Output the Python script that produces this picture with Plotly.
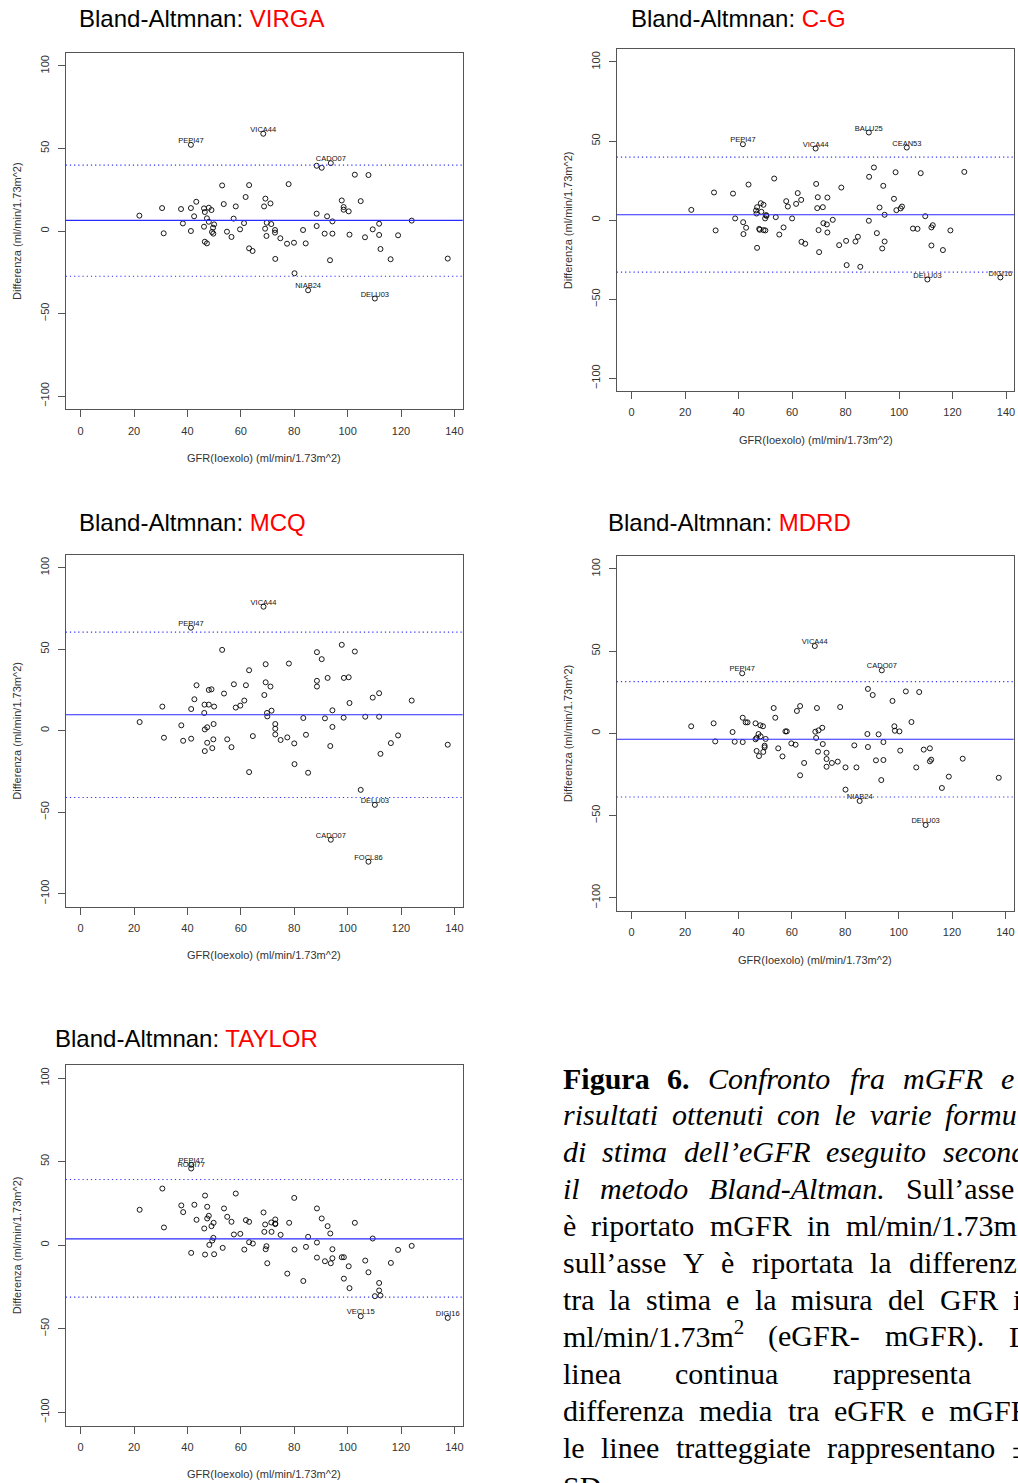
import plotly.graph_objects as go

# ---------------- DATA ----------------
x_virga = [22.0, 30.5, 31.1, 37.6, 38.3, 41.3, 41.3, 41.3, 42.5, 43.3, 46.2, 46.5, 46.2, 46.5, 47.3, 47.3,
           48.0, 48.0, 49.0, 49.6, 49.2, 49.7, 50.0, 53.0, 53.6, 54.8, 56.5, 57.3, 58.1, 59.7, 61.2, 61.8,
           63.1, 63.1, 64.4, 68.4, 68.7, 69.2, 69.1, 69.7, 69.6, 71.1, 71.4, 72.8, 72.8, 72.9, 74.8, 77.3,
           77.9, 79.9, 80.1, 83.3, 84.3, 85.2, 88.4, 90.3, 93.7, 88.4, 88.4, 91.4, 92.3, 93.4, 94.3, 94.3,
           97.8, 98.5, 98.5, 100.4, 100.7, 102.7, 104.9, 106.5, 107.8, 109.4, 110.2, 111.8, 111.8, 112.3,
           116.1, 118.9, 124.0, 137.5]
y_virga = [9.3, 13.9, -1.4, 13.3, 4.6, 52.2, 13.9, 0.0, 8.9, 17.7, 13.7, 11.5, 2.6, -6.5, -7.5, 7.7,
           14.1, 5.6, 12.7, 2.0, -0.6, -1.6, 4.0, 27.6, 16.3, -0.4, -3.6, 7.5, 14.9, 1.0, 4.8, 20.6,
           27.8, -10.5, -12.1, 58.9, 14.9, 19.6, 1.4, 5.0, -3.0, 16.7, 4.2, 0.6, -1.0, -16.9, -4.4, -7.7,
           28.4, -7.1, -25.6, 0.6, -7.5, -35.9, 39.5, 38.3, 41.1, 10.5, 3.0, -1.6, 8.9, -17.7, 5.8, -1.6,
           18.5, 14.5, 12.9, 11.9, -2.2, 34.1, 18.1, -3.8, 33.9, 1.0, -40.9, 4.4, -2.4, -10.9,
           -17.1, -2.6, 6.3, -16.7]
lab_virga = {"PEPI47": 5, "VICA44": 35, "NIAB24": 53, "CADO07": 56, "DELU03": 74}
stats_virga = [6.45, 39.9, -27.4]  # mean, upper, lower

x_cg = [22.3, 30.8, 31.4, 37.9, 38.7, 41.6, 41.7, 41.8, 42.8, 43.7, 46.5, 46.9, 46.7, 46.9, 47.7, 47.9,
        48.3, 48.5, 49.3, 49.3, 50.0, 49.9, 50.3, 50.4, 53.3, 53.9, 55.2, 56.8, 57.8, 58.4, 60.0, 61.5,
        62.1, 63.4, 63.5, 64.9, 68.8, 69.0, 69.4, 69.6, 69.9, 70.1, 71.5, 71.7, 73.0, 73.2, 73.2, 75.2,
        77.6, 78.4, 80.2, 80.4, 83.7, 84.6, 85.5, 88.7, 88.7, 88.8, 90.6, 91.7, 92.7, 93.7, 94.1, 94.6,
        94.6, 98.1, 98.7, 99.0, 100.6, 101.1, 102.9, 105.2, 106.9, 108.1, 109.8, 110.6, 112.1, 112.6,
        112.1, 116.4, 119.2, 124.4, 137.9]
y_cg = [6.5, 17.5, -6.5, 16.8, 1.1, 48.0, -1.3, -8.8, -4.8, 22.5, 6.1, 8.2, 4.2, -17.5, -5.5, -6.1,
        10.7, 5.3, 9.7, -6.3, -6.5, 1.1, 3.2, 2.7, 26.3, 1.9, -9.1, -4.6, 12.0, 8.6, 1.1, 10.3,
        17.1, 12.8, -13.7, -14.9, 45.3, 22.9, 7.6, 14.5, -6.3, -20.2, 8.2, -1.9, -2.7, 14.3, -7.8, 0.2,
        -15.8, 20.6, -13.1, -28.4, -13.5, -10.5, -29.5, 55.4, -0.4, 27.4, 33.3, -8.2, 8.0, -17.9, 21.7, 3.4,
        -13.5, 13.5, 30.3, 6.3, 7.4, 8.6, 45.9, -5.3, -5.5, 29.7, 2.5, -37.5, -4.6, -3.2,
        -16.0, -18.9, -6.5, 30.5, -36.2]
lab_cg = {"PEPI47": 5, "VICA44": 36, "BALU25": 55, "CEAN53": 70, "DELU03": 75, "DIGI16": 82}
stats_cg = [3.4, 39.8, -32.8]

x_mcq = [22.1, 30.6, 31.2, 37.7, 38.4, 41.3, 41.4, 41.4, 42.6, 43.4, 46.3, 46.4, 46.5, 46.5, 47.4, 47.4,
         48.0, 48.0, 49.0, 49.3, 49.7, 49.8, 50.0, 53.0, 53.7, 54.9, 56.5, 57.4, 58.1, 59.8, 61.3, 61.9,
         63.1, 63.1, 64.5, 68.5, 68.8, 69.3, 69.3, 69.8, 69.9, 71.1, 71.5, 72.9, 72.9, 72.9, 74.9, 77.4,
         78.0, 80.0, 80.1, 83.4, 84.4, 85.2, 88.5, 88.5, 88.5, 90.3, 91.5, 92.5, 93.5, 93.7, 94.3, 94.3,
         97.8, 98.5, 98.6, 100.4, 100.7, 102.7, 104.9, 106.6, 107.8, 109.4, 110.2, 111.8, 111.8, 112.3,
         116.2, 118.9, 124.0, 137.5]
y_mcq = [5.3, 14.8, -4.3, 3.3, -6.2, 63.2, 13.3, -4.9, 19.3, 27.9, 10.9, 16.0, 0.8, -12.5, -7.4, 2.1,
         25.0, 16.0, 25.4, -10.7, -5.3, 4.1, 14.8, 49.6, 22.8, -5.3, -10.1, 28.5, 14.2, 15.4, 18.5, 27.9,
         37.1, -25.4, -3.3, 76.1, 21.9, 29.7, 40.8, 10.9, 8.8, 27.1, 12.3, 4.1, 1.2, -2.3, -5.7, -4.1,
         41.2, -7.8, -20.5, 7.8, -2.5, -25.8, 48.2, 30.6, 27.1, 43.9, 7.6, 32.4, -9.4, -66.9, 12.5, 2.3,
         52.7, 8.0, 32.4, 32.8, 17.0, 48.6, -36.3, 8.6, -80.4, 20.3, -45.5, 23.0, 8.6, -14.2,
         -7.6, -2.9, 18.5, -8.6]
lab_mcq = {"PEPI47": 5, "VICA44": 35, "CADO07": 61, "FOCL86": 72, "DELU03": 74}
stats_mcq = [9.8, 60.5, -41.0]

x_mdrd = [22.3, 30.7, 31.3, 37.8, 38.6, 41.4, 41.6, 41.6, 42.7, 43.4, 46.4, 46.4, 46.8, 46.8, 47.5, 47.7,
          48.2, 48.3, 49.2, 49.3, 49.8, 49.8, 50.2, 53.2, 53.8, 54.9, 56.5, 57.6, 58.1, 59.8, 61.4, 61.9,
          63.1, 63.1, 64.6, 68.6, 68.8, 69.1, 69.4, 69.8, 70.0, 71.4, 71.6, 73.0, 73.0, 73.0, 75.0, 77.2,
          78.1, 80.1, 80.1, 83.4, 84.2, 85.4, 88.5, 88.3, 88.5, 90.3, 91.5, 92.5, 93.5, 93.7, 94.3, 94.3,
          97.7, 98.4, 98.6, 100.3, 100.6, 102.7, 104.8, 106.6, 107.7, 109.4, 110.1, 111.7, 111.7, 112.2,
          116.2, 118.8, 124.0, 137.5]
y_mdrd = [4.3, 6.1, -4.9, 0.8, -5.1, 36.5, 9.5, -5.3, 6.7, 6.7, 6.1, -3.6, -2.8, -10.7, -0.4, -13.8,
          4.9, -1.8, 4.3, -11.3, -7.5, -8.5, -3.4, 15.4, 9.5, -9.1, -14.0, 1.2, 1.2, -6.1, -6.9, 13.6,
          16.6, -25.5, -18.0, 53.1, 1.0, -2.8, 15.4, -11.1, 1.8, 3.4, -6.5, -11.8, -15.6, -20.3, -18.0, -17.2,
          16.0, -20.7, -34.2, -7.3, -20.7, -41.1, 27.0, -0.4, -8.3, 23.3, -16.4, -0.6, -28.4, 38.3, -5.3, -16.2,
          19.7, 4.3, 1.6, 1.2, -10.5, 25.5, 6.9, -20.7, 25.1, -9.9, -55.7, -9.1, -17.0, -16.0,
          -33.2, -26.3, -15.4, -27.0]
lab_mdrd = {"PEPI47": 5, "VICA44": 35, "NIAB24": 53, "CADO07": 61, "DELU03": 74}
stats_mdrd = [-3.6, 31.4, -38.7]

x_taylor = [22.1, 30.6, 31.2, 37.7, 38.4, 41.4, 41.4, 41.4, 42.6, 43.4, 46.3, 46.6, 46.6, 47.4, 47.4, 48.0,
            48.2, 49.0, 49.3, 49.7, 49.8, 50.0, 53.2, 53.7, 54.9, 56.5, 57.4, 58.1, 59.8, 61.3, 61.9, 63.1,
            63.1, 64.5, 68.5, 68.8, 69.1, 69.3, 69.6, 69.9, 71.4, 71.5, 72.9, 72.9, 72.9, 74.9, 77.4, 78.1,
            80.0, 80.1, 83.4, 84.4, 85.2, 88.5, 88.5, 88.5, 90.3, 91.5, 92.5, 93.5, 93.7, 94.3, 94.3, 97.8,
            98.6, 98.6, 100.4, 100.7, 102.7, 104.9, 106.6, 107.8, 109.4, 110.2, 111.8, 111.8, 112.3, 116.2,
            118.9, 124.0, 137.5]
y_taylor = [21.2, 33.9, 10.6, 23.8, 19.8, 45.9, 48.1, -4.6, 24.2, 15.2, 10.0, 29.7, -5.6, 23.0, 16.0, 17.6,
            0.2, 11.4, 2.8, 4.4, 13.4, -5.4, -1.6, 22.0, 17.0, 14.0, 6.4, 30.9, 6.8, -2.6, 15.0, 14.0,
            1.8, 1.0, 19.6, 8.0, 12.4, -2.4, -0.6, -10.8, 13.6, 8.0, 15.4, 12.6, 13.0, 6.2, -17.0, 13.4,
            28.3, -2.6, -21.4, -1.0, 5.0, 22.0, 1.6, -7.4, 16.0, -9.6, 11.4, 7.0, -10.8, -2.4, -7.8, -7.2,
            -7.2, -20.0, -12.6, -25.7, 13.4, -42.5, -9.2, -16.2, 4.0, -30.5, -22.6, -27.1, -30.1, -10.6,
            -2.8, -0.4, -43.5]
lab_taylor = {"ROGI77": 5, "PEPI47": 6, "VECL15": 69, "DIGI16": 80}
stats_taylor = [3.8, 39.3, -31.1]

formula_names = ["VIRGA", "C-G", "MCQ", "MDRD", "TAYLOR"]
x_ticks = [0, 20, 40, 60, 80, 100, 120, 140]
y_ticks = [-100, -50, 0, 50, 100]

title_prefix = "Bland-Altmnan: "
x_title = "GFR(Ioexolo) (ml/min/1.73m^2)"
y_title = "Differenza (ml/min/1.73m^2)"

caption_lines = [
    [("Figura", "b"), ("6.", "b"), ("Confronto", "i"), ("fra", "i"), ("mGFR", "i"), ("e", "i")],
    [("risultati", "i"), ("ottenuti", "i"), ("con", "i"), ("le", "i"), ("varie", "i"), ("formu", "i")],
    [("di", "i"), ("stima", "i"), ("dell’eGFR", "i"), ("eseguito", "i"), ("second", "i")],
    [("il", "i"), ("metodo", "i"), ("Bland-Altman.", "i"), ("Sull’asse", "r")],
    [("è", "r"), ("riportato", "r"), ("mGFR", "r"), ("in", "r"), ("ml/min/1.73m", "r")],
    [("sull’asse", "r"), ("Y", "r"), ("è", "r"), ("riportata", "r"), ("la", "r"), ("differenz", "r")],
    [("tra", "r"), ("la", "r"), ("stima", "r"), ("e", "r"), ("la", "r"), ("misura", "r"), ("del", "r"),
     ("GFR", "r"), ("i", "r")],
    [("ml/min/1.73m²", "r"), ("(eGFR-", "r"), ("mGFR).", "r"), ("L", "r")],
    [("linea", "r"), ("continua", "r"), ("rappresenta", "r")],
    [("differenza", "r"), ("media", "r"), ("tra", "r"), ("eGFR", "r"), ("e", "r"), ("mGFR", "r")],
    [("le", "r"), ("linee", "r"), ("tratteggiate", "r"), ("rappresentano", "r"), ("±", "r")],
    [("SD.", "r")],
]

# ---------------- LAYOUT / STYLE ----------------
W, H = 1018, 1483
SANS = "Arial, Liberation Sans, sans-serif"
SERIF = "Times New Roman, Liberation Serif, serif"
BOX_COLOR = "#555555"

panels = [
    dict(x=x_virga, y=y_virga, lab=lab_virga, stats=stats_virga),
    dict(x=x_cg, y=y_cg, lab=lab_cg, stats=stats_cg),
    dict(x=x_mcq, y=y_mcq, lab=lab_mcq, stats=stats_mcq),
    dict(x=x_mdrd, y=y_mdrd, lab=lab_mdrd, stats=stats_mdrd),
    dict(x=x_taylor, y=y_taylor, lab=lab_taylor, stats=stats_taylor),
]
geom = [  # plot box (left, top, right, bottom) in px, title (x, y), y-title x
    dict(box=(65.7, 52.7, 462.7, 409.3), title=(77, 19), ylab_x=17),
    dict(box=(616.7, 49.3, 1014.3, 391.0), title=(629, 19), ylab_x=568),
    dict(box=(65.7, 554.7, 462.7, 906.7), title=(77, 522), ylab_x=17),
    dict(box=(616.7, 555.7, 1013.7, 911.0), title=(606, 522), ylab_x=568),
    dict(box=(65.7, 1064.7, 462.7, 1425.7), title=(53, 1038), ylab_x=17),
]


def px(v):
    return v / W


def py(v):
    return 1 - v / H


fig = go.Figure()
annotations = []
shapes = []
layout_axes = {}

for i, (p, g) in enumerate(zip(panels, geom)):
    n = i + 1
    suf = "" if n == 1 else str(n)
    xr, yr = "x" + suf, "y" + suf
    l, t, r, b = g["box"]
    assert len(p["x"]) == len(p["y"])

    fig.add_trace(go.Scatter(
        x=p["x"], y=p["y"], mode="markers", xaxis=xr, yaxis=yr, showlegend=False,
        marker=dict(symbol="circle-open", size=5, color="black", line=dict(width=0.9, color="black")),
        hoverinfo="skip"))
    names = list(p["lab"].keys())
    idx = [p["lab"][k] for k in names]
    fig.add_trace(go.Scatter(
        x=[p["x"][k] for k in idx], y=[p["y"][k] for k in idx], text=names,
        mode="text", textposition="top center", xaxis=xr, yaxis=yr, showlegend=False,
        textfont=dict(family=SANS, size=7.5, color="#111111"), cliponaxis=False, hoverinfo="skip"))

    mean, up, lo = p["stats"]
    shapes.append(dict(type="line", xref=xr + " domain", yref=yr, x0=0, x1=1, y0=mean, y1=mean,
                       line=dict(color="#2a2aff", width=1.1)))
    for v in (up, lo):
        shapes.append(dict(type="line", xref=xr + " domain", yref=yr, x0=0, x1=1, y0=v, y1=v,
                           line=dict(color="#3030ff", width=1.2, dash="1.2px,3px")))

    common = dict(showline=True, linecolor=BOX_COLOR, linewidth=1, mirror=True, showgrid=False,
                  zeroline=False, ticks="outside", ticklen=7, tickwidth=1, tickcolor=BOX_COLOR,
                  tickfont=dict(family=SANS, size=11, color="#333333"), ticklabelstandoff=4)
    layout_axes["xaxis" + suf] = dict(common, domain=[px(l), px(r)], range=[-5.6, 143.1],
                                      tickvals=x_ticks, anchor=yr)
    layout_axes["yaxis" + suf] = dict(common, domain=[py(b), py(t)], range=[-108, 108],
                                      tickvals=y_ticks, tickangle=-90, anchor=xr)

    tx, ty = g["title"]
    annotations.append(dict(
        xref="paper", yref="paper", x=px(tx), y=py(ty), xanchor="left", yanchor="middle",
        showarrow=False, text=title_prefix + "<span style='color:#ff0000'>" + formula_names[i] + "</span>",
        font=dict(family=SANS, size=24, color="black")))
    annotations.append(dict(
        xref="paper", yref="paper", x=px((l + r) / 2), y=py(b + 48.5), xanchor="center", yanchor="middle",
        showarrow=False, text=x_title, font=dict(family=SANS, size=11, color="#333333")))
    annotations.append(dict(
        xref="paper", yref="paper", x=px(g["ylab_x"]), y=py((t + b) / 2), xanchor="center", yanchor="middle",
        showarrow=False, text=y_title, textangle=-90, font=dict(family=SANS, size=11, color="#333333")))

# ---------------- caption (justified word by word) ----------------
FS = 30
REG = {' ': 250, 'a': 444, 'b': 500, 'c': 444, 'd': 500, 'e': 444, 'f': 333, 'g': 500, 'h': 500, 'i': 278,
       'l': 278, 'm': 778, 'n': 500, 'o': 500, 'p': 500, 'r': 333, 's': 389, 't': 278, 'u': 500, 'v': 500,
       'z': 444, 'è': 444, '’': 333, 'Y': 722, 'G': 722, 'F': 556, 'R': 667, 'S': 556, 'L': 611, 'D': 722,
       '(': 333, ')': 333, '-': 333, '.': 250, '/': 278, '1': 500, '7': 500, '3': 500, '±': 564, '²': 300}
ITA = {'a': 500, 'c': 444, 'd': 500, 'e': 444, 'f': 278, 'g': 500, 'i': 278, 'l': 278, 'm': 722, 'n': 500,
       'o': 500, 'r': 389, 's': 389, 't': 278, 'u': 500, 'v': 444, 'z': 389, '’': 333, 'G': 722, 'F': 611,
       'R': 611, 'B': 611, 'A': 611, 'C': 667, '-': 333, '.': 250, 'S': 500}
BOLD = {'F': 611, 'i': 278, 'g': 500, 'u': 556, 'r': 444, 'a': 500, '6': 500, '.': 250}
TABLES = {"r": REG, "i": ITA, "b": BOLD}

cap_left = 561.7
cap_right = [1013, 1016, 1025, 1013, 1016, 1016, 1020.5, 1026.5, 970, 1030, 1028, None]
cap_base0, cap_step = 1089.0, 36.9


def wwidth(word, style):
    tb = TABLES[style]
    return sum(tb.get(ch, 500) for ch in word) * FS / 1000.0


for li, words in enumerate(caption_lines):
    widths = [wwidth(w, s) for w, s in words]
    if cap_right[li] is not None and len(words) > 1:
        gap = (cap_right[li] - cap_left - sum(widths)) / (len(words) - 1)
    else:
        gap = 0.25 * FS
    base = cap_base0 + li * cap_step
    if li == len(caption_lines) - 1:
        base += 3
    xpos = cap_left
    for (w, s), wd in zip(words, widths):
        txt = w.replace("²", "<sup>2</sup>")
        if s == "i":
            txt = "<i>" + txt + "</i>"
        elif s == "b":
            txt = "<b>" + txt + "</b>"
        annotations.append(dict(
            xref="paper", yref="paper", x=px(xpos - 1), y=py(base + 7.5), xanchor="left", yanchor="bottom",
            showarrow=False, text=txt, font=dict(family=SERIF, size=FS, color="black")))
        xpos += wd + gap

fig.update_layout(
    width=W, height=H, margin=dict(l=0, r=0, t=0, b=0),
    paper_bgcolor="white", plot_bgcolor="white",
    annotations=annotations, shapes=shapes, showlegend=False, **layout_axes)

fig.write_html("out.html", config={"displayModeBar": False},
               post_script="document.body.style.margin='0';document.body.style.overflow='hidden';")
